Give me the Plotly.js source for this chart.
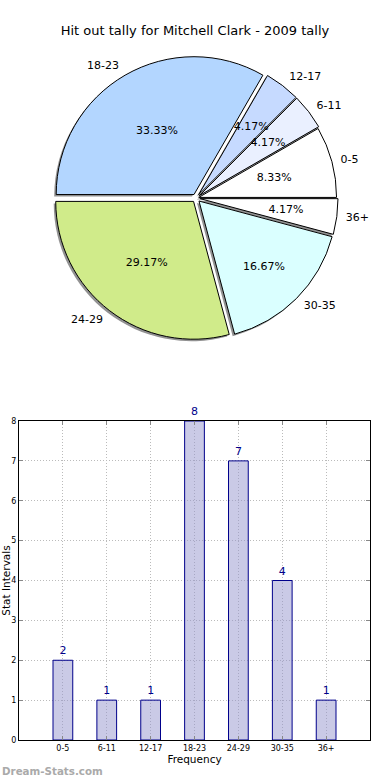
<!DOCTYPE html>
<html><head><meta charset="utf-8">
<script src="https://cdn.plot.ly/plotly-3.0.1.min.js"></script>
<style>html,body{margin:0;padding:0;background:#fff}#c{width:390px;height:780px}</style>
</head><body><div id="c"></div>
<script>
const categories = ["0-5","6-11","12-17","18-23","24-29","30-35","36+"];
const tally = [2,1,1,8,7,4,1];
const sliceColors = ["#FFFFFF","#EAF0FF","#C6DAFF","#B3D6FF","#D0EB8A","#DAFFFF","#FFFFFF"];
const pulls = [0.02,0.03,0.03,0.03,0.03,0.03,0.03];
const titleText = "Hit out tally for Mitchell Clark - 2009 tally";

const F = "DejaVu Sans, Liberation Sans, sans-serif";
const cx = 0.50275, cy = 0.746, hx = 0.36425, hy = 0.182;
function dom(s, ox, oy) {
  ox = ox || 0; oy = oy || 0;
  return {x:[cx-hx*s+ox, cx+hx*s+ox], y:[cy-hy*s+oy, cy+hy*s+oy]};
}
const PCT = "%{percent:.2%}";
const isBig = tally.map(v => v >= 4);

const common = {type:"pie", labels:categories, values:tally, sort:false,
  direction:"counterclockwise", rotation:60, pull:pulls, hoverinfo:"none", showlegend:false};
const clear = {colors:categories.map(()=> "rgba(0,0,0,0)"), line:{width:0}};

const shadow = Object.assign({}, common, {
  domain:dom(1, -2/390, -2/780),
  marker:{colors:categories.map(()=> "rgba(110,110,110,0.75)"), line:{width:0}},
  textinfo:"none"});

const pie = Object.assign({}, common, {
  domain:dom(1),
  marker:{colors:sliceColors, line:{color:"#000", width:1}},
  textinfo:"none"});

const pctSmall = Object.assign({}, common, {
  domain:dom(0.72), marker:clear,
  texttemplate:isBig.map(b => b ? "" : PCT), textposition:"inside",
  insidetextorientation:"horizontal",
  textfont:{family:F, size:11, color:"#000"}});

const pctBig = Object.assign({}, common, {
  domain:dom(1.0), marker:clear,
  texttemplate:isBig.map(b => b ? PCT : ""), textposition:"inside",
  insidetextorientation:"horizontal",
  textfont:{family:F, size:11, color:"#000"}});

const labelsTrace = Object.assign({}, common, {
  domain:dom(1.04), marker:clear,
  textinfo:"label", textposition:"outside",
  outsidetextfont:{family:F, size:11, color:"#000"}});

const bars = {type:"bar", x:categories.map((c,i)=>i), y:tally, width:0.45,
  xaxis:"x", yaxis:"y",
  marker:{color:"rgba(150,150,205,0.5)", line:{color:"#00008B", width:1}},
  text:tally.map(String), textposition:"outside", cliponaxis:false,
  textfont:{family:F, size:11, color:"#00008B"}, hoverinfo:"none", showlegend:false};

const layout = {
  width:390, height:780, margin:{l:0,r:0,t:0,b:0},
  paper_bgcolor:"#fff", plot_bgcolor:"#fff",
  font:{family:F, color:"#000"},
  uniformtext:{mode:"show", minsize:11},
  title:{text:titleText, font:{family:F, size:13, color:"#000"},
    x:0.5, xanchor:"center", y:1-30/780, yanchor:"middle"},
  xaxis:{domain:[19/390, 370/390], anchor:"y", range:[-1,7],
    tickvals:categories.map((c,i)=>i), ticktext:categories,
    tickfont:{family:F, size:8, color:"#000"},
    ticks:"inside", ticklen:4, tickcolor:"#888",
    showline:true, linecolor:"#000", linewidth:1, mirror:"ticks",
    showgrid:true, gridcolor:"#bbb", griddash:"1px,2px", gridwidth:1, zeroline:false,
    title:{text:"Frequency", font:{family:F, size:10.5, color:"#000"}, standoff:4}},
  yaxis:{domain:[1-740/780, 1-421/780], anchor:"x", range:[0,8], dtick:1,
    tickfont:{family:F, size:8, color:"#000"},
    ticks:"inside", ticklen:4, tickcolor:"#888",
    showline:true, linecolor:"#000", linewidth:1, mirror:"ticks",
    showgrid:true, gridcolor:"#bbb", griddash:"1px,2px", gridwidth:1, zeroline:false,
    title:{text:"Stat Intervals", font:{family:F, size:10.5, color:"#000"}, standoff:2}},
  annotations:[{text:"<b>Dream-Stats.com</b>", xref:"paper", yref:"paper",
    x:0, y:1-771/780, xanchor:"left", yanchor:"middle", showarrow:false,
    font:{family:F, size:10.3, color:"#aaa"}}]
};

Plotly.newPlot("c", [shadow, pie, pctSmall, pctBig, labelsTrace, bars], layout, {staticPlot:true});
</script></body></html>
